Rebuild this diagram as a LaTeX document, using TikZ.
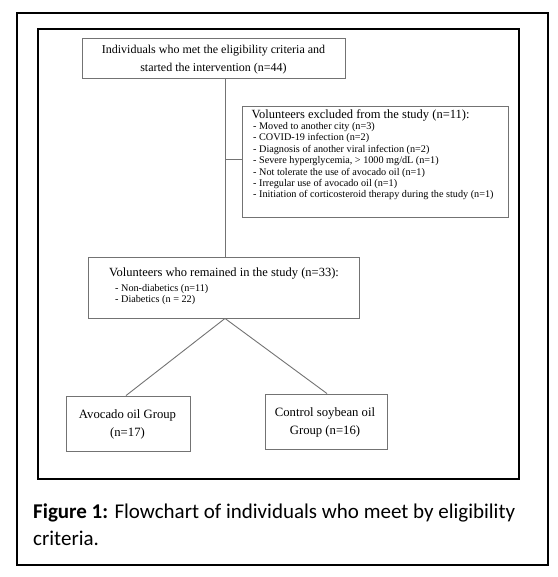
\documentclass[tikz,border=0pt]{standalone}
\usepackage{fontspec}
\setmainfont{Liberation Serif}
\newfontfamily\capfont{Carlito}
\tikzset{
  x=1pt,y=-1pt,
  box/.style={draw=black!55,line width=0.9pt,inner sep=0pt},
  conn/.style={draw=black!55,line width=0.9pt},
  outerframe/.style={draw=black,line width=1.2pt},
  toptext/.style={font=\fontsize{12}{18}\selectfont,inner sep=0pt},
  titletext/.style={font=\fontsize{12.5}{15}\selectfont,inner sep=0pt,anchor=west},
  itemtext/.style={font=\fontsize{10.2}{11.4}\selectfont,inner sep=0pt,anchor=west},
  grptext/.style={font=\fontsize{12.7}{17.5}\selectfont,inner sep=0pt,align=center},
  captext/.style={font=\capfont\fontsize{21}{28}\selectfont,inner sep=0pt,anchor=base west}
}
\begin{document}
\begin{tikzpicture}
\useasboundingbox (0,0) rectangle (557,577);
\draw[outerframe] (17,13) rectangle (548,565);
\draw[outerframe] (38,29) rectangle (519,479);
% top box
\node[box,minimum width=263pt,minimum height=40pt] (top) at (213.5,58) {};
\node[toptext,align=center] (toptxt) at (213.5,60) {Individuals who met the eligibility criteria and\\started the intervention (n=44)};
% exclusion box
\node[box,minimum width=266pt,minimum height=111pt] (excl) at (375,161.5) {};
\node[titletext] (extitle) at (251.5,115.5) {Volunteers excluded from the study (n=11):};
\node[itemtext] (e1) at (253,127) {- Moved to another city (n=3)};
\node[itemtext] (e2) at (253,138.4) {- COVID-19 infection (n=2)};
\node[itemtext] (e3) at (253,149.8) {- Diagnosis of another viral infection (n=2)};
\node[itemtext] (e4) at (253,161.2) {- Severe hyperglycemia, > 1000 mg/dL (n=1)};
\node[itemtext] (e5) at (253,172.6) {- Not tolerate the use of avocado oil (n=1)};
\node[itemtext] (e6) at (253,184) {- Irregular use of avocado oil (n=1)};
\node[itemtext] (e7) at (253,195.4) {- Initiation of corticosteroid therapy during the study (n=1)};
% remained box
\node[box,minimum width=271pt,minimum height=61pt] (rem) at (223.5,287.5) {};
\node[titletext] (remtitle) at (109,274) {Volunteers who remained in the study (n=33):};
\node[itemtext] (r1) at (115,289) {- Non-diabetics (n=11)};
\node[itemtext] (r2) at (115,300.5) {- Diabetics (n = 22)};
% groups
\node[box,minimum width=124pt,minimum height=55pt] (avo) at (128,423.5) {};
\node[grptext] (avotxt) at (127.5,424.5) {Avocado oil Group\\(n=17)};
\node[box,minimum width=122pt,minimum height=55pt] (ctl) at (326,421.5) {};
\node[grptext] (ctltxt) at (325,422.5) {Control soybean oil\\Group (n=16)};
% connectors
\coordinate (xline) at (225,0);
\coordinate (xav) at (126,0);
\coordinate (xct) at (327,0);
\coordinate (hj) at (225,159);
\draw[conn] (top.south -| xline) -- (rem.north -| xline);
\draw[conn] (hj) -- (hj -| excl.west);
\draw[conn] (rem.south -| xline) -- (avo.north -| xav);
\draw[conn] (rem.south -| xline) -- (ctl.north -| xct);
% caption
\node[captext] (cap1) at (33,518) {\textbf{Figure 1:} Flowchart of individuals who meet by eligibility};
\node[captext] (cap2) at (33,545) {criteria.};
\end{tikzpicture}
\end{document}
